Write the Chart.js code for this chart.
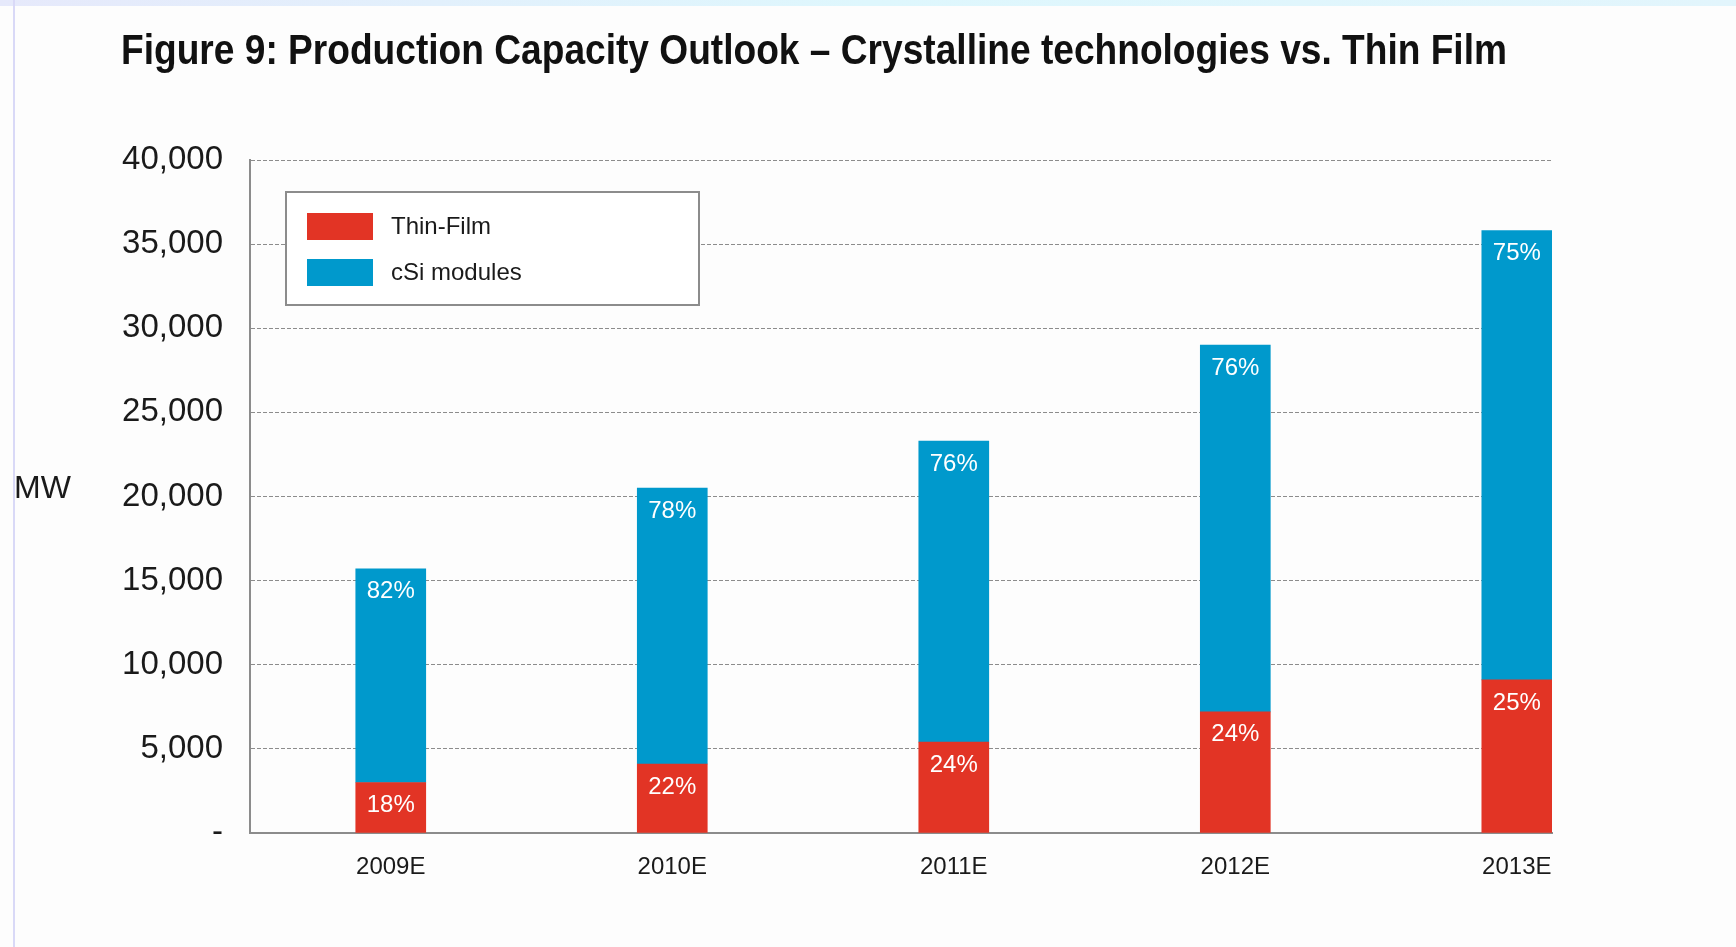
<!DOCTYPE html>
<html>
<head>
<meta charset="utf-8">
<script src="https://cdn.jsdelivr.net/npm/chart.js@4.4.1/dist/chart.umd.min.js"></script>
<style>
html, body { margin: 0; padding: 0; background: #fdfdfd; overflow: hidden; }
#topband { position: absolute; left: 0; top: 0; width: 1736px; height: 6px; background: linear-gradient(to right, #e6e9fb, #def7fd 50%, #e2f5fc); }
#leftline { position: absolute; left: 13px; top: 0; width: 2px; height: 947px; background: #d9d9f7; }
#wrap { position: absolute; left: 0; top: 0; width: 1736px; height: 947px; }
</style>
</head>
<body>
<div id="topband"></div>
<div id="leftline"></div>
<div id="wrap"><canvas id="chartCapacity"></canvas></div>
<script>
// Production capacity (MW)
var years = ["2009E", "2010E", "2011E", "2012E", "2013E"];
var thinFilm = [3000, 4100, 5400, 7200, 9100];
var csiModules = [12700, 16400, 17900, 21800, 26700];

// share labels printed inside the bars
var thinFilmPct = ["18%", "22%", "24%", "24%", "25%"];
var csiPct = ["82%", "78%", "76%", "76%", "75%"];

var colThin = "#e23425";
var colCsi = "#0099cc";
var fontFamily = '"Liberation Sans", Arial, Helvetica, sans-serif';

var toPoints = function(arr) {
    return arr.map(function(v, i) { return { x: i, y: v }; });
};

// title, MW label, legend box and the % labels
var decorPlugin = {
    id: "decor",
    afterDatasetsDraw: function(chart) {
        var ctx = chart.ctx;
        ctx.save();

        // % labels on each segment
        ctx.fillStyle = "#ffffff";
        ctx.font = "24px " + fontFamily;
        ctx.textAlign = "center";
        ctx.textBaseline = "middle";
        [thinFilmPct, csiPct].forEach(function(labels, d) {
            chart.getDatasetMeta(d).data.forEach(function(bar, i) {
                ctx.fillText(labels[i], bar.x, bar.y + 23);
            });
        });

        // legend
        ctx.fillStyle = "#ffffff";
        ctx.fillRect(286, 192, 413, 113);
        ctx.strokeStyle = "#8c8c8c";
        ctx.lineWidth = 2;
        ctx.strokeRect(286, 192, 413, 113);
        ctx.textAlign = "left";
        ctx.font = "24px " + fontFamily;
        chart.data.datasets.forEach(function(ds, i) {
            var y = 213 + i * 46;
            ctx.fillStyle = ds.backgroundColor;
            ctx.fillRect(307, y, 66, 27);
            ctx.fillStyle = "#1a1a1a";
            ctx.fillText(ds.label, 391, y + 14);
        });

        // unit label
        ctx.font = "32px " + fontFamily;
        ctx.textBaseline = "alphabetic";
        ctx.fillStyle = "#1a1a1a";
        ctx.fillText("MW", 14, 498);

        // title, squeezed to the original width
        var title = "Figure 9: Production Capacity Outlook \u2013 Crystalline technologies vs. Thin Film";
        ctx.font = "bold 43px " + fontFamily;
        var w = ctx.measureText(title).width;
        ctx.translate(121, 64);
        ctx.scale(1386 / w, 1);
        ctx.fillStyle = "#111111";
        ctx.fillText(title, 0, 0);
        ctx.restore();
    }
};

new Chart(document.getElementById("chartCapacity").getContext("2d"), {
    type: "bar",
    data: {
        datasets: [{
            label: "Thin-Film",
            data: toPoints(thinFilm),
            backgroundColor: colThin,
            barThickness: 70
        }, {
            label: "cSi modules",
            data: toPoints(csiModules),
            backgroundColor: colCsi,
            barThickness: 70
        }]
    },
    options: {
        responsive: true,
        maintainAspectRatio: false,
        animation: false,
        layout: { padding: { top: 160, right: 184, bottom: 0, left: 0 } },
        plugins: {
            legend: { display: false },
            title: { display: false },
            tooltip: { enabled: false }
        },
        scales: {
            x: {
                type: "linear",
                stacked: true,
                offset: false,
                min: -0.5,
                max: 4.125,
                grid: { display: false, drawTicks: false },
                border: { display: true, color: "#8c8c8c", width: 2 },
                afterBuildTicks: function(scale) {
                    scale.ticks = years.map(function(_, i) { return { value: i }; });
                },
                afterFit: function(scale) { scale.height = 114; },
                ticks: {
                    padding: 20,
                    color: "#1a1a1a",
                    font: { family: fontFamily, size: 24 },
                    callback: function(v) { return years[v] || ""; }
                }
            },
            y: {
                stacked: true,
                min: 0,
                max: 40000,
                grid: { color: "#8c8c8c", lineWidth: 1, drawTicks: false },
                border: { display: true, color: "#8c8c8c", width: 2, dash: [4, 2] },
                afterFit: function(scale) { scale.width = 250; },
                ticks: {
                    stepSize: 5000,
                    padding: 27,
                    color: "#1a1a1a",
                    font: { family: fontFamily, size: 33 },
                    callback: function(v) { return v === 0 ? "-" : v.toLocaleString("en-US"); }
                }
            }
        }
    },
    plugins: [decorPlugin]
});
</script>
</body>
</html>
